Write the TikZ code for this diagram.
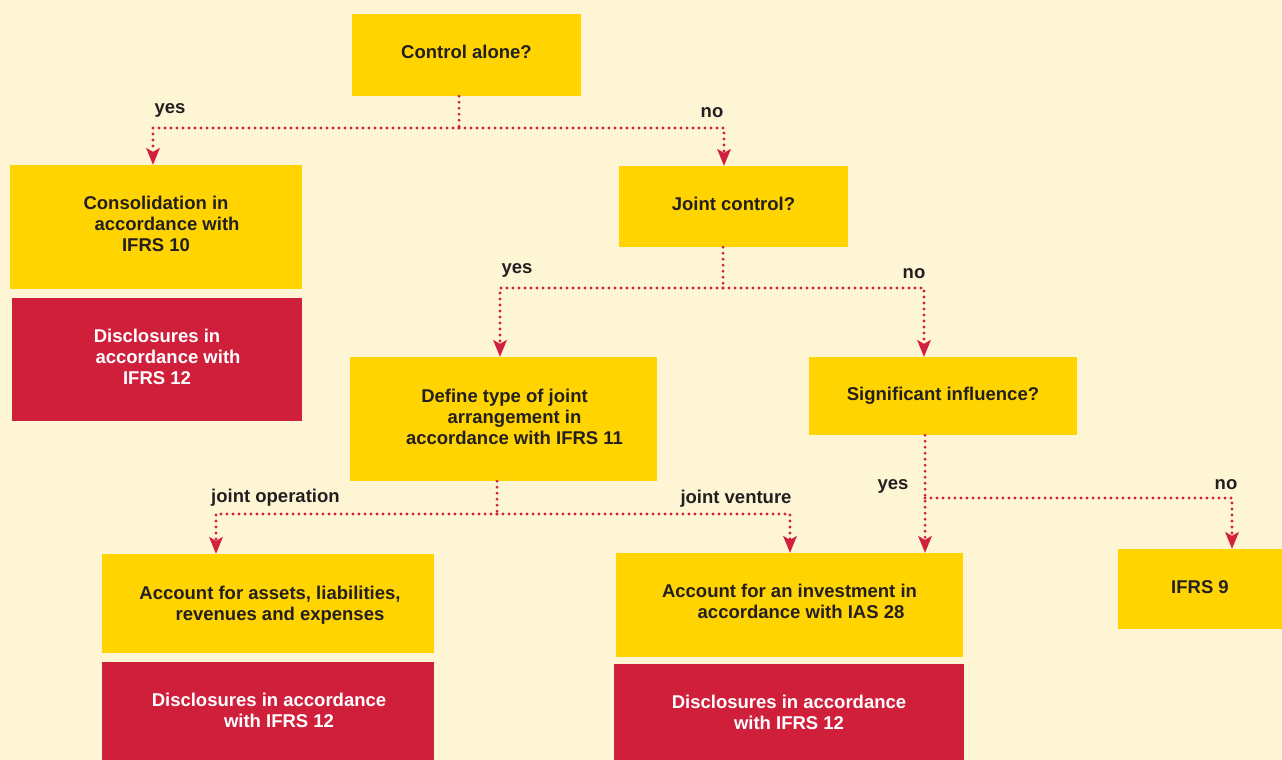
\documentclass[tikz,border=0pt]{standalone}
\usepackage{fontspec}
\setmainfont{Liberation Sans}
\usetikzlibrary{arrows.meta,calc}
\definecolor{bg}{HTML}{FDF5D3}
\definecolor{yel}{HTML}{FFD400}
\definecolor{redbox}{HTML}{D01F3B}
\definecolor{dotred}{HTML}{D2213E}
\definecolor{txt}{HTML}{231F20}
\tikzset{
  box/.style={fill=yel, inner sep=0pt, align=center, text=txt, font=\bfseries\fontsize{18.5}{21}\selectfont},
  redb/.style={box, fill=redbox, text=white},
  lbl/.style={inner sep=0pt, text=txt, font=\bfseries\fontsize{18.5}{21}\selectfont},
  dots/.style={draw=dotred, line width=3.1pt, dash pattern=on 0pt off 6pt, line cap=round},
  arr/.style={dots, -{Stealth[length=17pt,width=14pt,inset=4pt,fill=dotred,line width=0pt]}},
}
\begin{document}
\begin{tikzpicture}[x=1pt,y=-1pt]
\useasboundingbox (0,0) rectangle (1282,760);
\fill[bg] (0,0) rectangle (1282,760);
% boxes
\node[box, minimum width=229pt, minimum height=82pt, text depth=7pt] (ctrl) at (466.5,55) {Control alone?};
\node[box, minimum width=292pt, minimum height=124pt, text depth=6pt] (cons) at (156,227) {Consolidation in\\\hspace*{22pt}accordance with\\IFRS 10};
\node[redb, minimum width=290pt, minimum height=123pt, text depth=5pt] (disc1) at (157,359.5) {Disclosures in\\\hspace*{22pt}accordance with\\IFRS 12};
\node[box, minimum width=229pt, minimum height=81pt, text depth=6pt] (joint) at (733.5,206.5) {Joint control?};
\node[box, minimum width=307pt, minimum height=124pt, text depth=4pt] (def) at (503.5,419) {\hspace*{2pt}Define type of joint\\\hspace*{22pt}arrangement in\\\hspace*{22pt}accordance with IFRS 11};
\node[box, minimum width=268pt, minimum height=78pt] (sig) at (943,396) {Significant influence?};
\node[box, minimum width=332pt, minimum height=99pt, text depth=0pt] (assets) at (268,603.5) {\hspace*{4pt}Account for assets, liabilities,\\\hspace*{24pt}revenues and expenses};
\node[redb, minimum width=332pt, minimum height=98pt, text depth=2pt] (disc2) at (268,711) {\hspace*{2pt}Disclosures in accordance\\\hspace*{22pt}with IFRS 12};
\node[box, minimum width=347pt, minimum height=104pt, text depth=8pt] (inv) at (789.5,605) {Account for an investment in\\\hspace*{23pt}accordance with IAS 28};
\node[redb, minimum width=350pt, minimum height=96pt] (disc3) at (789,712) {Disclosures in accordance\\with IFRS 12};
\node[box, minimum width=164pt, minimum height=80pt, text depth=4pt] (ifrs9) at (1200,589) {IFRS 9};
% branch points
\coordinate (b1) at (459,128);
\coordinate (b2) at (723,288);
\coordinate (b3) at (497,514);
\coordinate (b4) at (925,498);
% connectors
\draw[dots] (ctrl.south -| b1) -- (b1);
\draw[arr] (b1) -| ([xshift=-3pt]cons.north);
\draw[arr] (b1) -| ([xshift=-9.5pt]joint.north);
\draw[dots] (joint.south -| b2) -- (b2);
\draw[arr] (b2) -| ([xshift=-3.5pt]def.north);
\draw[arr] (b2) -| ([xshift=-19pt]sig.north);
\draw[dots] (def.south -| b3) -- (b3);
\draw[arr] (b3) -| ([xshift=-52pt]assets.north);
\draw[arr] (b3) -| ([xshift=0.5pt]inv.north);
\draw[arr] (sig.south -| b4) -- (inv.north -| b4);
\draw[arr] (b4) -| ([xshift=32pt]ifrs9.north);
% labels
\node[lbl] (l1) at (170,110.5) {yes};
\node[lbl] (l2) at (712,113) {no};
\node[lbl] (l3) at (517,270.5) {yes};
\node[lbl] (l4) at (914,274) {no};
\node[lbl, anchor=west] (l5) at (211,498) {joint operation};
\node[lbl] (l6) at (736,499) {joint venture};
\node[lbl] (l7) at (893,486.5) {yes};
\node[lbl] (l8) at (1226,485) {no};
\end{tikzpicture}
\end{document}
